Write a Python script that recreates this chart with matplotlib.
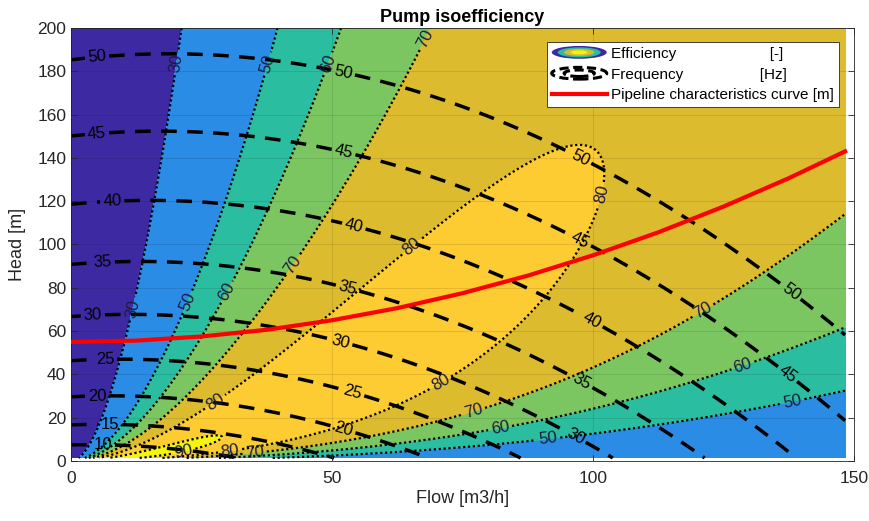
import numpy as np
import matplotlib
matplotlib.use("Agg")
import matplotlib.pyplot as plt
import matplotlib.patches as mpatches
from matplotlib.lines import Line2D
from matplotlib.legend_handler import HandlerBase

plt.rcParams["font.family"] = ["Liberation Sans", "DejaVu Sans"]

# ── Data ─────────────────────────────────────────────────────────────────────
# pump head curve at nominal frequency (50 Hz)
PUMP_Q_50HZ = [0, 25, 50, 75, 100, 125, 148]
PUMP_H_50HZ = [185, 188, 181, 164, 136, 101, 59]
F_NOMINAL = 50

# efficiency: best-efficiency flow at 50 Hz and peak efficiency vs speed ratio
Q_BEP = 98.0
SPEED_RATIO = [0.29, 0.67, 1.01, 1.13]
PEAK_ETA = [90, 83.7, 80, 79.3]

EFF_LEVELS = [30, 50, 60, 70, 80, 90]
FREQ_LEVELS = [10, 15, 20, 25, 30, 35, 40, 45, 50]

# pipeline characteristics curve
PIPE_Q = [0, 12.5, 25, 37.5, 50, 62.5, 75, 87.5, 100, 112.5, 125, 137.5, 148.3]
PIPE_H = [55, 55.6, 57.5, 60.6, 65, 70.6, 77.5, 85.6, 95, 105.6, 117.5, 130.6, 143]

Q_MAX, H_MIN, H_MAX = 148.3, 1.4, 200

# label positions (data coords)
FREQ_LABEL_POS = [(5, 186), (52, 178), (97.1, 137.6), (137.2, 75.7),
                  (5, 150.6), (52.1, 141.3), (97.1, 99.8), (136.4, 37.4),
                  (7.9, 119.6), (54, 106.7), (99.4, 62.8),
                  (6.1, 91.5), (52.9, 79), (97.5, 35),
                  (4.2, 66.5), (51.5, 53.6), (96.2, 9.7),
                  (6.5, 45.7), (53.8, 30.5), (5, 29), (52.1, 13.4),
                  (7.5, 16.6), (6.1, 7.4)]
EFF_LABEL_POS = [(19.5, 184), (36.8, 184), (48.7, 184), (66.9, 196),
                 (10.7, 71), (21.5, 74.4), (29.1, 79), (42, 91.5),
                 (65.3, 98.8), (70.3, 38.3), (100.8, 123.8), (27.6, 27.3),
                 (121, 69.7), (77, 23.6), (128.7, 44.3), (82.2, 15.2),
                 (138.3, 26.8), (91.4, 10.6), (21.5, 5), (30.5, 4.2), (35.2, 3.7)]

EFF_COLORS = ["#3d2aa3", "#2b8ce6", "#2bbd9f", "#7bc660",
              "#dcbb2f", "#fdcb32", "#f5f40f"]
AX_COLOR = "#262626"

# ── Fields ───────────────────────────────────────────────────────────────────
q = np.linspace(0, Q_MAX, 700)
h = np.linspace(H_MIN, H_MAX, 600)
Q, H = np.meshgrid(q, h)

pa, pb, pc = np.polyfit(PUMP_Q_50HZ, PUMP_H_50HZ, 2)
# affinity laws: H = pc*r^2 + pb*Q*r + pa*Q^2, r = f / f_nominal
r = (-pb * Q + np.sqrt((pb * Q) ** 2 + 4 * pc * (H - pa * Q ** 2))) / (2 * pc)
freq = F_NOMINAL * r
t = (Q / r) / Q_BEP
eta_peak = np.polyval(np.polyfit(SPEED_RATIO, PEAK_ETA, 2), r)
eta = eta_peak * (2 * t - t ** 2)


# ── Legend icons ─────────────────────────────────────────────────────────────
class EffIcon(HandlerBase):
    def create_artists(self, legend, orig_handle, xd, yd, width, height, fontsize, trans):
        cx, cy = width / 2 - xd, height / 2 - yd
        arts = []
        for s, col in zip([1.0, 0.78, 0.55, 0.3],
                          [EFF_COLORS[0], EFF_COLORS[2], EFF_COLORS[4], EFF_COLORS[6]]):
            arts.append(mpatches.Ellipse((cx, cy), width * s, height * 1.2 * s,
                                         facecolor=col, edgecolor="none", transform=trans))
        return arts


class FreqIcon(HandlerBase):
    def create_artists(self, legend, orig_handle, xd, yd, width, height, fontsize, trans):
        cx, cy = width / 2 - xd, height / 2 - yd
        arts = []
        for s in [1.0, 0.55]:
            arts.append(mpatches.Ellipse((cx, cy), width * s, height * 1.1 * s,
                                         facecolor="none", edgecolor="k", lw=2.2,
                                         linestyle=(0, (3, 1.5)), transform=trans))
        return arts


# ── Draw ─────────────────────────────────────────────────────────────────────
fig = plt.figure(figsize=(8.69, 5.21), dpi=100)
ax = fig.add_axes([0.0817, 0.1152, 0.9010, 0.8311])

ax.contourf(Q, H, eta, levels=[-1e3] + EFF_LEVELS + [1e3], colors=EFF_COLORS, zorder=1)
cs_eff = ax.contour(Q, H, eta, levels=EFF_LEVELS, colors="k", linewidths=1.6, zorder=2)
cs_eff.set_linestyle((0, (1, 1.2)))
cs_f = ax.contour(Q, H, freq, levels=FREQ_LEVELS, colors="k", linewidths=2.5, zorder=2)
cs_f.set_linestyle((0, (4.5, 3)))

ax.clabel(cs_eff, manual=EFF_LABEL_POS, inline=True, fontsize=12, fmt="%d",
          colors="#1a1a40", inline_spacing=3)
ax.clabel(cs_f, manual=FREQ_LABEL_POS, inline=True, fontsize=12, fmt="%d",
          colors="k", inline_spacing=3)

ax.plot(PIPE_Q, PIPE_H, color="red", lw=3, zorder=4)

ax.set_xlim(0, 150)
ax.set_ylim(0, 200)
ax.set_xticks([0, 50, 100, 150])
ax.set_yticks(range(0, 201, 20))
ax.set_axisbelow(False)
ax.grid(True, color="k", alpha=0.12, lw=0.6)
ax.tick_params(direction="in", top=True, right=True, length=4, width=0.6,
               labelsize=12.5, colors=AX_COLOR)
ax.tick_params(axis="x", pad=7)
for sp in ax.spines.values():
    sp.set_color(AX_COLOR)
    sp.set_linewidth(0.6)

ax.set_xlabel("Flow [m3/h]", fontsize=13, color=AX_COLOR, labelpad=3)
ax.set_ylabel("Head [m]", fontsize=13, color=AX_COLOR, labelpad=8)
ax.set_title("Pump isoefficiency", fontsize=13, fontweight="bold", pad=4)

handles = [mpatches.Patch(), Line2D([], [], color="k"),
           Line2D([], [], color="red", lw=3)]
labels = ["Efficiency" + " " * 22 + "[-]",
          "Frequency" + " " * 18 + "[Hz]",
          "Pipeline characteristics curve [m]"]
leg = ax.legend(handles, labels, loc="upper right", bbox_to_anchor=(0.981, 0.968),
                borderaxespad=0, fontsize=11, fancybox=False, framealpha=1,
                edgecolor=AX_COLOR, handlelength=3.6, handletextpad=0.3,
                labelspacing=0.45, borderpad=0.32,
                handler_map={mpatches.Patch: EffIcon(), handles[1]: FreqIcon()})
leg.get_frame().set_linewidth(0.6)
leg.set_zorder(10)

fig.savefig("out.png", dpi=100)
